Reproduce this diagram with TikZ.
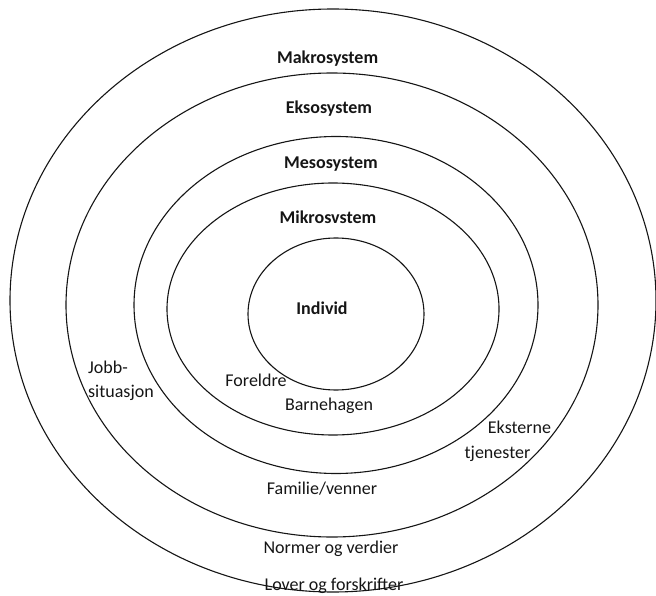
\documentclass[tikz,border=0pt]{standalone}
\usepackage{fontspec}
\setmainfont{Carlito}
\usepackage{xcolor}
\usetikzlibrary{positioning}
\definecolor{ink}{HTML}{151515}

\begin{document}
\begin{tikzpicture}[x=1pt,y=-1pt,
    ring/.style={ink,line width=1.1pt},
    lvl/.style={font=\fontsize{18}{22}\selectfont\bfseries,anchor=base,ink,inner sep=0pt},
    lbl/.style={font=\fontsize{18}{22}\selectfont,anchor=base,ink,inner sep=0pt}]
  \useasboundingbox (0,0) rectangle (656,596);
  % ringene, fra ytterst og innover
  \foreach \cx/\cy/\rx/\ry in {333/300.5/323/291.5, 332/305/266/232,
                               336/305/202/168.5, 333/309/166/126, 336/314/88/76}
    \draw[ring] (\cx,\cy) ellipse [x radius=\rx, y radius=\ry];
  % systemnivaa
  \node[lvl] (makro) at (327.6,64) {Makrosystem};
  \node[lvl] (ekso) at (329,114) {Eksosystem};
  \node[lvl] (meso) at (331,169) {Mesosystem};
  \node[lvl] (mikro) at (328,224) {Mikrosvstem};
  \node[lvl] (individ) at (322,314) {Individ};
  % eksempler
  \node[lbl] (foreldre) at (256,386) {Foreldre};
  \node[lbl] (barnehage) at (329,410) {Barnehagen};
  \node[lbl,anchor=base west] (jobb) at (88,373) {Jobb-};
  \node[lbl,anchor=base west] (situasjon) at (88,397) {situasjon};
  \node[lbl] (eksterne) at (519.5,433) {Eksterne};
  \node[lbl] (tjenester) at (497.5,458) {tjenester};
  \node[lbl] (familie) at (322,494) {Familie/venner};
  \node[lbl] (normer) at (331,553) {Normer og verdier};
  \node[lbl] (lover) at (334,590) {Lover og forskrifter};
\end{tikzpicture}
\end{document}
